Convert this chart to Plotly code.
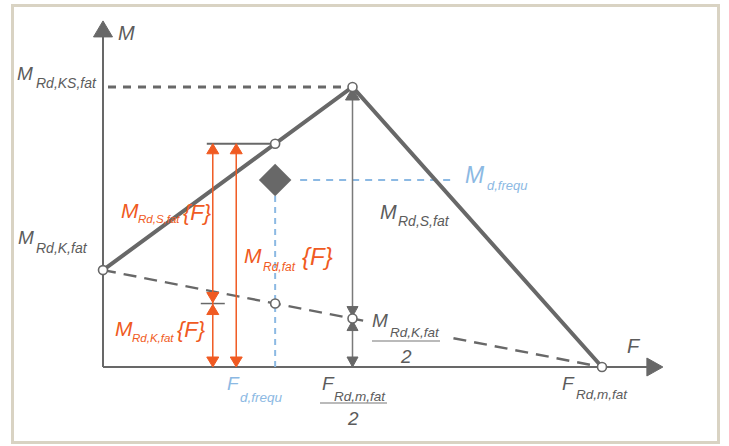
import plotly.graph_objects as go

W, H = 729, 446

# ---- diagram values (F in units of F_Rd,m,fat, M in units of M_Rd,KS,fat) ----
F_RD_M_FAT = 1.0        # fatigue resistance in pure tension
M_RD_KS_FAT = 1.0       # maximum fatigue moment resistance
M_RD_K_FAT = 0.346      # moment resistance of the core alone
F_HALF = F_RD_M_FAT / 2 # F at the peak of the interaction diagram
F_D_FREQU = 0.345       # frequent axial action
M_D_FREQU = 0.668       # frequent moment action
F_DIM = [0.220, 0.267]  # positions of the two orange dimension lines
F_REF_START = 0.208     # start of the reference line at M_Rd,fat{F}
AXIS_F_MAX = 1.122
AXIS_M_MAX = 1.236

# interaction diagram outline
outer_F = [0.0, F_HALF, F_RD_M_FAT]
outer_M = [M_RD_K_FAT, M_RD_KS_FAT, 0.0]
core_F = [0.0, F_RD_M_FAT]
core_M = [M_RD_K_FAT, 0.0]


def m_core(f):
    return M_RD_K_FAT * (1 - f / F_RD_M_FAT)


def m_outer(f):
    return M_RD_K_FAT + (M_RD_KS_FAT - M_RD_K_FAT) * f / F_HALF


M_CORE_D = m_core(F_D_FREQU)
M_OUT_D = m_outer(F_D_FREQU)
M_CORE_HALF = m_core(F_HALF)

# ---- drawing scale ----
X0, Y0 = 103, 367   # pixel position of the origin
SX, SY = 499, 280   # pixels per unit
def dx(p): return p / SX
def dy(p): return p / SY

GRAY = "#686868"
TEXT = "#5c5c5c"
ORANGE = "#f05a22"
BLUE = "#8cb9e3"
BORDER = "#d9d3c3"
FONT = "Liberation Sans, Arial, sans-serif"

fig = go.Figure()


def line(xs, ys, color, width, dash=None):
    fig.add_trace(go.Scatter(x=xs, y=ys, mode="lines",
                             line=dict(color=color, width=width, dash=dash),
                             hoverinfo="skip", showlegend=False))


def head(x, y, direction, color, w=12, h=10):
    """Filled triangular arrowhead with its tip at (x, y)."""
    if direction == "up":
        xs = [x, x - dx(w / 2), x + dx(w / 2), x]
        ys = [y, y - dy(h), y - dy(h), y]
    elif direction == "down":
        xs = [x, x - dx(w / 2), x + dx(w / 2), x]
        ys = [y, y + dy(h), y + dy(h), y]
    else:  # right
        xs = [x, x - dx(h), x - dx(h), x]
        ys = [y, y + dy(w / 2), y - dy(w / 2), y]
    fig.add_trace(go.Scatter(x=xs, y=ys, mode="lines", fill="toself",
                             fillcolor=color, line=dict(color=color, width=1),
                             hoverinfo="skip", showlegend=False))


# axes
line([0, 0], [0, AXIS_M_MAX - dy(14)], GRAY, 2)
line([0, AXIS_F_MAX - dx(14)], [0, 0], GRAY, 2)
head(0, AXIS_M_MAX, "up", GRAY, w=19, h=16)
head(AXIS_F_MAX, 0, "right", GRAY, w=18, h=16)

# frequent action reference lines
line([F_D_FREQU, F_D_FREQU], [M_D_FREQU - dy(16), 0], BLUE, 2, "6px,5px")
line([F_D_FREQU + dx(25), 0.705], [M_D_FREQU, M_D_FREQU], BLUE, 2, "7px,6px")

# level of the maximum moment
line([dx(5), F_HALF], [M_RD_KS_FAT, M_RD_KS_FAT], GRAY, 3, "8px,7px")

# core resistance (dashed) and outer resistance (solid)
line(core_F, core_M, GRAY, 2.5, "13px,8px")
line(outer_F, outer_M, GRAY, 4)

# vertical dimension at F_Rd,m,fat / 2
line([F_HALF, F_HALF], [M_RD_KS_FAT, 0], "#7a7a7a", 1.5)
head(F_HALF, M_RD_KS_FAT - dy(1), "up", GRAY, w=14, h=12)
head(F_HALF, M_CORE_HALF + dy(2), "down", GRAY, w=11, h=10)
head(F_HALF, M_CORE_HALF - dy(2), "up", GRAY, w=11, h=10)
head(F_HALF, 0, "down", GRAY, w=11, h=10)

# reference line at M_Rd,fat{F} and tick at M_Rd,K,fat{F}
line([F_REF_START, F_D_FREQU], [M_OUT_D, M_OUT_D], GRAY, 2)
line([F_DIM[0] - dx(12), F_DIM[0] + dx(12)], [M_CORE_D, M_CORE_D], GRAY, 1.5)

# orange dimension lines
line([F_DIM[0], F_DIM[0]], [M_OUT_D, 0], ORANGE, 1.5)
line([F_DIM[1], F_DIM[1]], [M_OUT_D, 0], ORANGE, 1.5)
head(F_DIM[0], M_OUT_D, "up", ORANGE)
head(F_DIM[0], M_CORE_D + dy(1), "down", ORANGE)
head(F_DIM[0], M_CORE_D - dy(1), "up", ORANGE)
head(F_DIM[0], 0, "down", ORANGE)
head(F_DIM[1], M_OUT_D, "up", ORANGE)
head(F_DIM[1], 0, "down", ORANGE)

# design point
fig.add_trace(go.Scatter(x=[F_D_FREQU], y=[M_D_FREQU], mode="markers",
                         marker=dict(symbol="diamond", size=25, color=GRAY,
                                     line=dict(width=0)),
                         hoverinfo="skip", showlegend=False))

# characteristic points
pts_F = [0.0, F_HALF, F_RD_M_FAT, F_D_FREQU, F_D_FREQU, F_HALF]
pts_M = [M_RD_K_FAT, M_RD_KS_FAT, 0.0, M_OUT_D, M_CORE_D, M_CORE_HALF]
fig.add_trace(go.Scatter(x=pts_F, y=pts_M, mode="markers",
                         marker=dict(symbol="circle", size=9, color="white",
                                     line=dict(color=GRAY, width=1.6)),
                         hoverinfo="skip", showlegend=False))


# ---- labels (placed in pixels) ----
def px_shape(kind, x0, y0, x1, y1, **kw):
    fig.add_shape(type=kind, xref="paper", yref="paper",
                  x0=x0 / W, x1=x1 / W, y0=1 - y0 / H, y1=1 - y1 / H, **kw)


def label(x, y, text, size, color=TEXT, anchor="left"):
    fig.add_annotation(x=x / W, y=1 - y / H, xref="paper", yref="paper",
                       text="<i>" + text + "</i>", showarrow=False,
                       xanchor=anchor, yanchor="middle", borderpad=0,
                       font=dict(family=FONT, size=size, color=color))


def sym(x, y, main, sx, sy, sub, color=TEXT, size=19, sub_size=14):
    label(x, y, main, size, color)
    label(sx, sy, sub, sub_size, color)


# the dashed core line is interrupted behind the M_Rd,K,fat / 2 label
px_shape("rect", 368, 312, 452, 346, fillcolor="white",
         line=dict(width=0), layer="above")


def frac_bar(x0, x1, y):
    px_shape("line", x0, y, x1, y, line=dict(color="#777777", width=1.2))


label(117, 33, "M", 20)
label(626, 346, "F", 20)

sym(16, 73, "M", 35, 83, "Rd,KS,fat")
sym(17, 237, "M", 35, 248, "Rd,K,fat")
sym(379, 212, "M", 397, 221, "Rd,S,fat", size=20)
sym(561, 383, "F", 575, 394, "Rd,m,fat", sub_size=13.5)
sym(226, 383, "F", 239, 397, "d,frequ", color=BLUE, sub_size=13.5)
sym(464, 175, "M", 486, 185, "d,frequ", color=BLUE, size=23, sub_size=13)

# M_Rd,K,fat / 2
sym(371, 320, "M", 389, 332, "Rd,K,fat", sub_size=13.5)
frac_bar(372, 440, 341)
label(406, 356, "2", 19, anchor="center")

# F_Rd,m,fat / 2
sym(321, 383, "F", 333, 396, "Rd,m,fat", sub_size=13.5)
frac_bar(320, 387, 403)
label(353, 418, "2", 19, anchor="center")

# orange resistance labels
sym(120, 211, "M", 137, 219, "Rd,S,fat", color=ORANGE, size=21, sub_size=11.5)
label(182, 212, "{F}", 22, ORANGE)
sym(243, 255, "M", 262, 267, "Rd,fat", color=ORANGE, size=21, sub_size=12)
label(301, 256, "{F}", 24, ORANGE)
sym(114, 328, "M", 131, 338, "Rd,K,fat", color=ORANGE, size=21, sub_size=11.5)
label(176, 329, "{F}", 22, ORANGE)

# frame
px_shape("rect", 12.5, 442.5, 718.5, 5.5, line=dict(color=BORDER, width=3))

fig.update_layout(
    width=W, height=H, margin=dict(l=0, r=0, t=0, b=0),
    paper_bgcolor="white", plot_bgcolor="white",
    xaxis=dict(range=[-X0 / SX, (W - X0) / SX], visible=False, fixedrange=True),
    yaxis=dict(range=[-(H - Y0) / SY, Y0 / SY], visible=False, fixedrange=True),
    showlegend=False,
)

fig.write_html("out.html")
